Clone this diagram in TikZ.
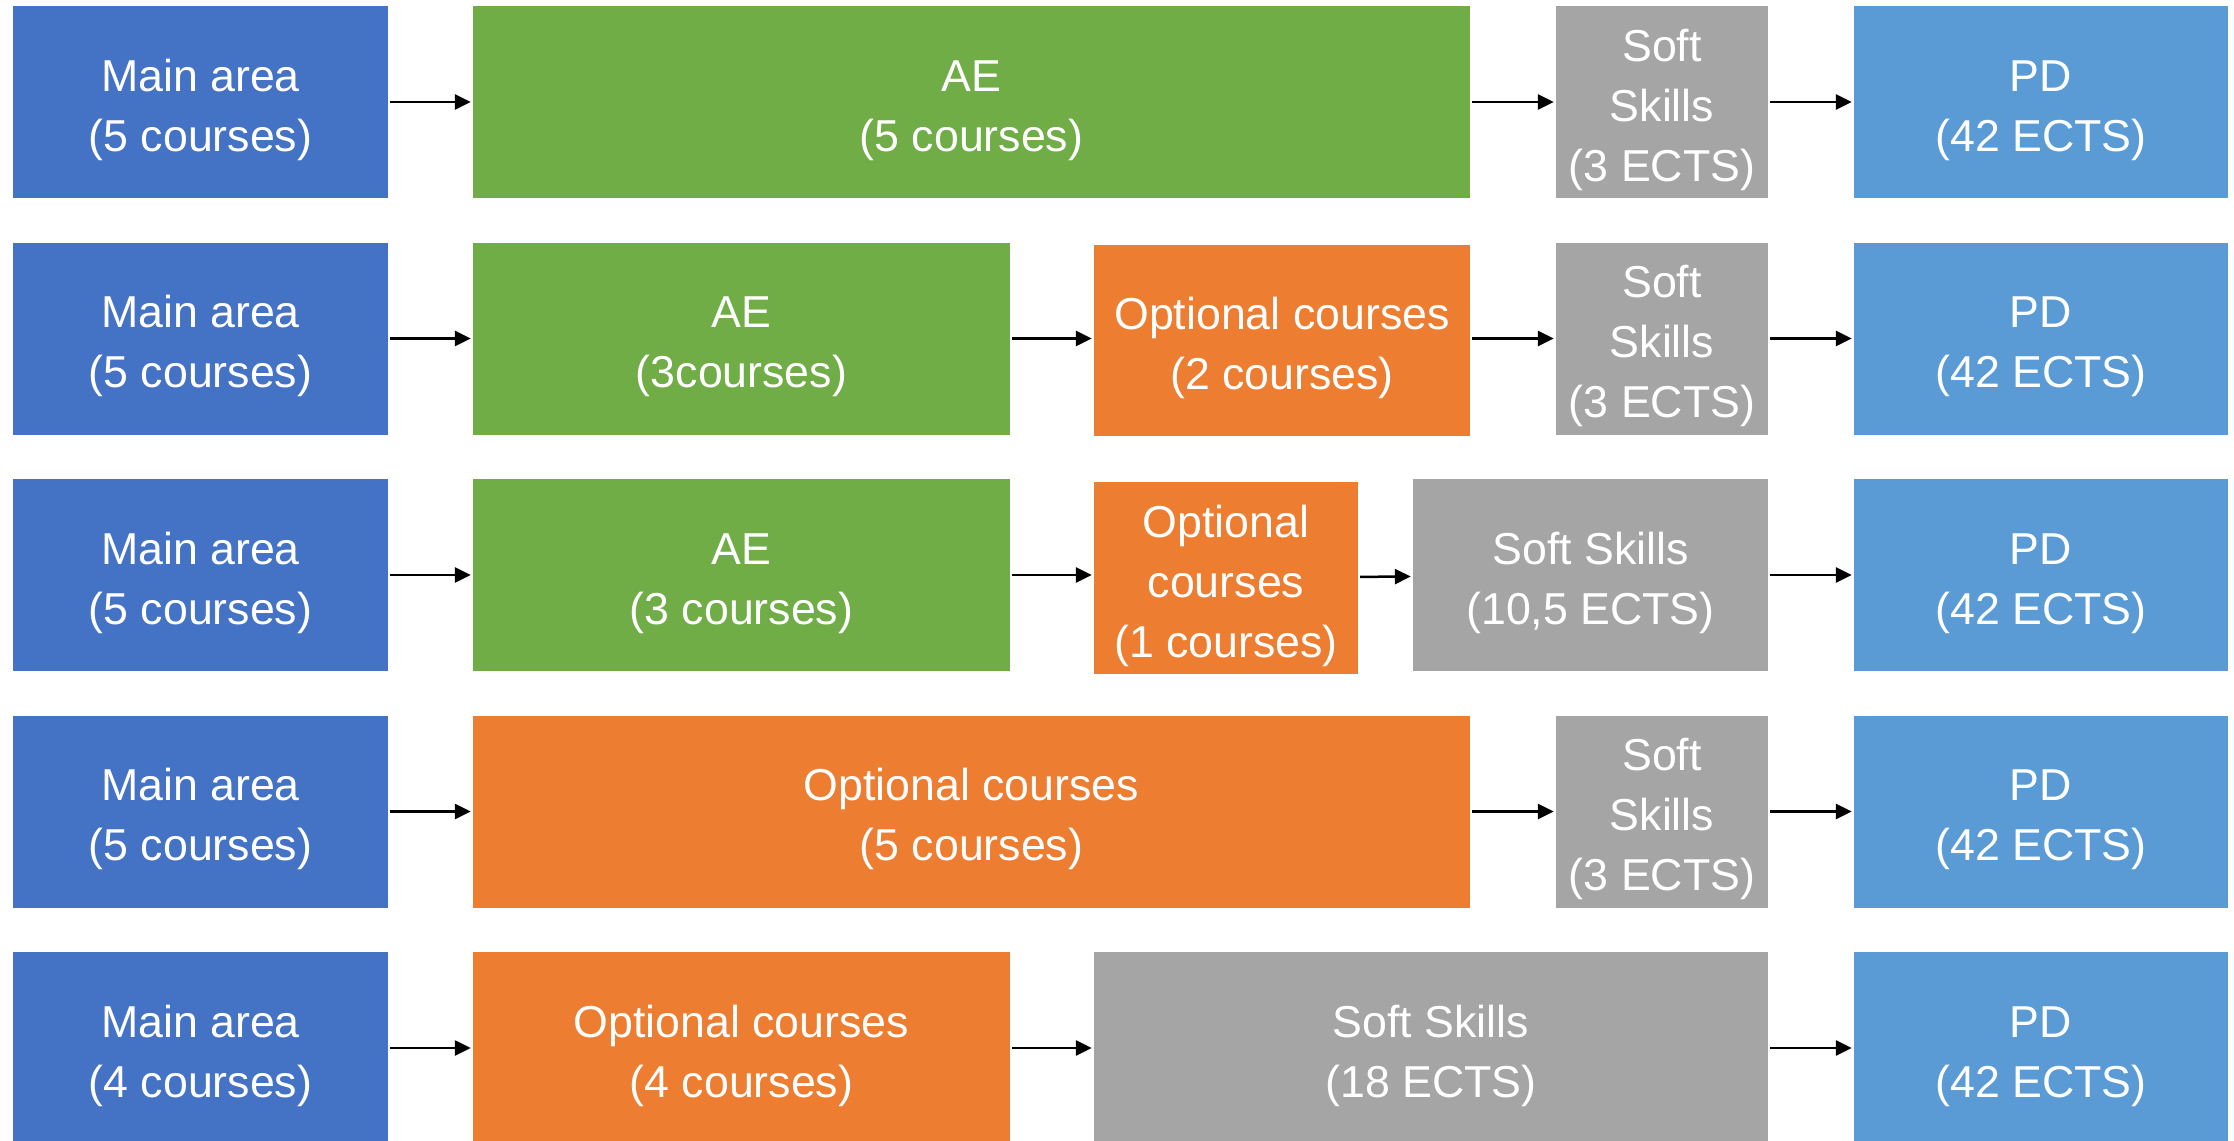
\documentclass[tikz,border=0pt]{standalone}
\usepackage{fontspec}
\setmainfont{Liberation Sans}
\usetikzlibrary{arrows.meta}
\definecolor{cmain}{HTML}{4472C4}
\definecolor{cgreen}{HTML}{70AD47}
\definecolor{corange}{HTML}{ED7D31}
\definecolor{cgrey}{HTML}{A5A5A5}
\definecolor{cpd}{HTML}{5B9BD5}
\tikzset{
  box/.style={rectangle, inner sep=0pt, text=white, align=center,
    minimum height=192pt, font=\fontsize{44.7}{60}\selectfont,
    text height=108pt, text depth=10pt},
  three/.style={text height=168pt},
  mainbox/.style={box, fill=cmain, minimum width=375pt},
  pdbox/.style={box, fill=cpd, minimum width=374pt},
  arr/.style={line width=2.5pt, -{Triangle[length=16pt,width=15pt]},
    shorten <=2pt, shorten >=2pt}
}
\begin{document}
\begin{tikzpicture}[x=1pt,y=-1pt]
\useasboundingbox[fill=white] (0,0) rectangle (2234,1140);
% Row 1
\node[mainbox] (m1) at (200.5,102) {Main area\\(5 courses)};
\node[box, fill=cgreen, minimum width=997pt] (a1) at (971.5,102) {AE\\(5 courses)};
\node[box, three, fill=cgrey, minimum width=212pt] (s1) at (1662,102) {Soft\\Skills\\(3 ECTS)};
\node[pdbox] (p1) at (2041,102) {PD\\(42 ECTS)};
\draw[arr] (m1) -- (a1);
\draw[arr] (a1) -- (s1);
\draw[arr] (s1) -- (p1);
% Row 2
\node[mainbox] (m2) at (200.5,338.5) {Main area\\(5 courses)};
\node[box, fill=cgreen, minimum width=537pt] (a2) at (741.5,338.5) {AE\\(3courses)};
\node[box, fill=corange, minimum width=376pt, minimum height=191pt] (o2) at (1282,340.5) {Optional courses\\(2 courses)};
\node[box, three, fill=cgrey, minimum width=212pt] (s2) at (1662,338.5) {Soft\\Skills\\(3 ECTS)};
\node[pdbox] (p2) at (2041,338.5) {PD\\(42 ECTS)};
\draw[arr] (m2) -- (a2);
\draw[arr] (a2) -- (a2 -| o2.west);
\draw[arr] (o2.east |- s2) -- (s2);
\draw[arr] (s2) -- (p2);
% Row 3
\node[mainbox] (m3) at (200.5,575) {Main area\\(5 courses)};
\node[box, fill=cgreen, minimum width=537pt] (a3) at (741.5,575) {AE\\(3 courses)};
\node[box, three, fill=corange, minimum width=264pt] (o3) at (1226,578) {Optional\\courses\\(1 courses)};
\node[box, fill=cgrey, minimum width=355pt] (s3) at (1590.5,575) {Soft Skills\\(10,5 ECTS)};
\node[pdbox] (p3) at (2041,575) {PD\\(42 ECTS)};
\draw[arr] (m3) -- (a3);
\draw[arr] (a3) -- (a3 -| o3.west);
\draw[arr] (o3) -- (s3);
\draw[arr] (s3) -- (p3);
% Row 4
\node[mainbox] (m4) at (200.5,811.5) {Main area\\(5 courses)};
\node[box, fill=corange, minimum width=997pt] (o4) at (971.5,811.5) {Optional courses\\(5 courses)};
\node[box, three, fill=cgrey, minimum width=212pt] (s4) at (1662,811.5) {Soft\\Skills\\(3 ECTS)};
\node[pdbox] (p4) at (2041,811.5) {PD\\(42 ECTS)};
\draw[arr] (m4) -- (o4);
\draw[arr] (o4) -- (s4);
\draw[arr] (s4) -- (p4);
% Row 5
\node[mainbox] (m5) at (200.5,1048) {Main area\\(4 courses)};
\node[box, fill=corange, minimum width=537pt] (o5) at (741.5,1048) {Optional courses\\(4 courses)};
\node[box, fill=cgrey, minimum width=674pt] (s5) at (1431,1048) {Soft Skills\\(18 ECTS)};
\node[pdbox] (p5) at (2041,1048) {PD\\(42 ECTS)};
\draw[arr] (m5) -- (o5);
\draw[arr] (o5) -- (s5);
\draw[arr] (s5) -- (p5);
\end{tikzpicture}
\end{document}
